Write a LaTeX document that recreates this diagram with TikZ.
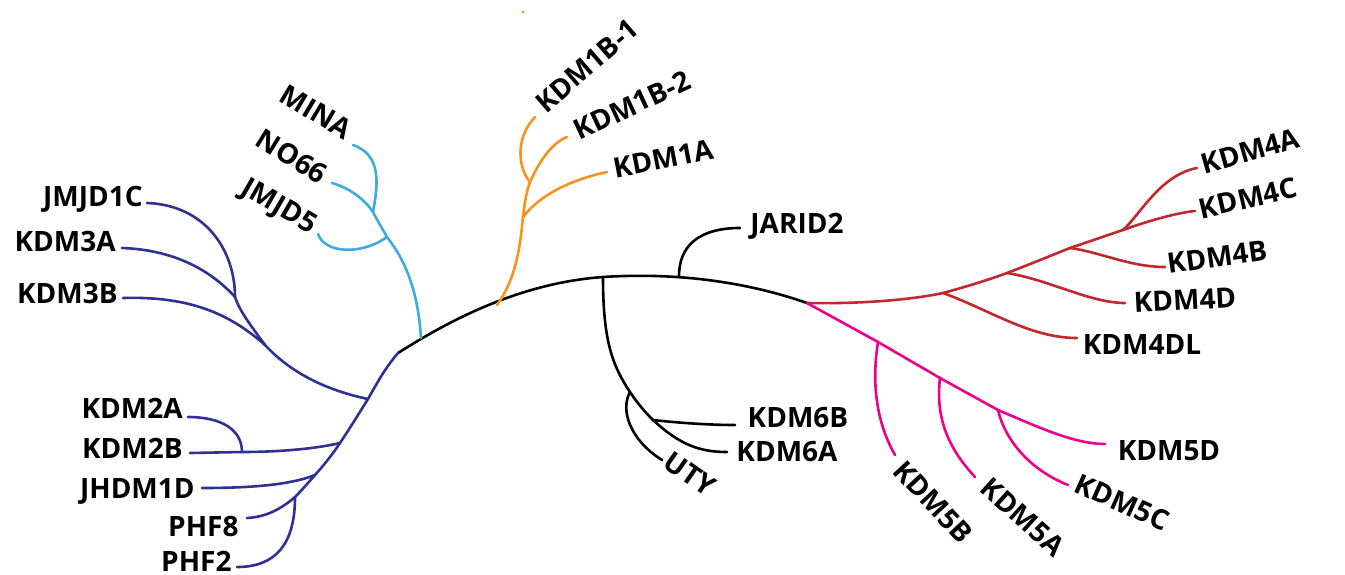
\documentclass[tikz,border=0pt]{standalone}
\usepackage{fontspec}
\setmainfont{Open Sans}
\definecolor{navy}{HTML}{2E3192}
\definecolor{sky}{HTML}{3FA9E0}
\definecolor{amber}{HTML}{F7931E}
\definecolor{crimson}{HTML}{C1272D}
\definecolor{magenta}{HTML}{EC008C}
\begin{document}
\begin{tikzpicture}[x=0.5pt,y=-0.5pt,
  br/.style={line width=1.3pt,line cap=round},
  lbl/.style={inner sep=0pt,font=\fontsize{14pt}{16pt}\selectfont\bfseries,text depth=0pt}]
\fill[white] (0,0) rectangle (1345,574);
\useasboundingbox (0,0) rectangle (1345,574);

% ---- backbone ----
\coordinate (root) at (398,353);
\coordinate (top) at (603,277);
\coordinate (rm) at (807,303);
\coordinate (ob) at (497,305);
\coordinate (sb) at (421,338);
\coordinate (jb) at (679,276);
\draw[br] (root) .. controls (450,320) and (520,283) .. (top)
  .. controls (680,272) and (750,283) .. (rm);

% ---- KDM1 (orange) ----
\coordinate (o1) at (523,217);
\coordinate (o2) at (530,182);
\coordinate (t1a) at (607,172);
\coordinate (t1b2) at (567,137);
\coordinate (t1b1) at (535,117);
\draw[br,amber] (ob) .. controls (515,280) and (520,250) .. (o1)
  .. controls (525,200) and (527,190) .. (o2);
\draw[br,amber] (o1) .. controls (540,195) and (570,180) .. (t1a);
\draw[br,amber] (o2) .. controls (540,160) and (552,143) .. (t1b2);
\draw[br,amber] (o2) .. controls (518,168) and (515,138) .. (t1b1);
\fill[amber] (523,12) circle (1.5);
\node[lbl,rotate=41] (kdm1b1) at (587,66) {KDM1B-1};
\node[lbl,rotate=25] (kdm1b2) at (632,105) {KDM1B-2};
\node[lbl,rotate=11] (kdm1a) at (663,159) {KDM1A};

% ---- MINA / NO66 / JMJD5 (sky) ----
\coordinate (s1) at (387,237);
\coordinate (s2) at (373,212);
\coordinate (tj5) at (318,234);
\coordinate (tmi) at (353,145);
\coordinate (tno) at (332,183);
\draw[br,sky] (sb) .. controls (418,290) and (405,260) .. (s1)
  .. controls (382,228) and (377,220) .. (s2);
\draw[br,sky] (s1) .. controls (362,255) and (325,254) .. (tj5);
\draw[br,sky] (s2) .. controls (378,185) and (382,155) .. (tmi);
\draw[br,sky] (s2) .. controls (365,200) and (350,188) .. (tno);
\node[lbl,rotate=-31] (mina) at (316,112) {MINA};
\node[lbl,rotate=-32] (no66) at (292,156) {NO66};
\node[lbl,rotate=-30] (jmjd5) at (280,205) {JMJD5};

% ---- KDM2/3, JHDM1D, PHF (navy) ----
\coordinate (n1) at (368,399);
\coordinate (n2) at (340,443);
\coordinate (n3) at (315,475);
\coordinate (n4) at (295,497);
\coordinate (n1b) at (265,345);
\coordinate (n1c) at (235,297);
\coordinate (n2a) at (242,452);
\coordinate (t3b) at (123,298);
\coordinate (t3a) at (122,248);
\coordinate (t1c) at (147,203);
\coordinate (t2b) at (190,453);
\coordinate (t2a) at (188,417);
\coordinate (t1d) at (202,488);
\coordinate (tp8) at (247,518);
\coordinate (tp2) at (237,567);
\draw[br,navy] (root) .. controls (385,368) and (376,385) .. (n1)
  .. controls (358,415) and (350,428) .. (n2)
  .. controls (332,455) and (324,465) .. (n3)
  .. controls (308,483) and (302,490) .. (n4);
\draw[br,navy] (n1) .. controls (325,390) and (290,372) .. (n1b)
  .. controls (252,327) and (240,312) .. (n1c);
\draw[br,navy] (n1b) .. controls (230,314) and (190,296) .. (t3b);
\draw[br,navy] (n1c) .. controls (215,275) and (180,250) .. (t3a);
\draw[br,navy] (n1c) .. controls (235,250) and (205,205) .. (t1c);
\draw[br,navy] (n2) .. controls (310,450) and (270,452) .. (n2a) -- (t2b);
\draw[br,navy] (n2a) .. controls (242,430) and (222,417) .. (t2a);
\draw[br,navy] (n3) .. controls (290,485) and (250,488) .. (t1d);
\draw[br,navy] (n4) .. controls (280,510) and (265,517) .. (tp8);
\draw[br,navy] (n4) .. controls (295,545) and (275,567) .. (tp2);
\node[lbl,anchor=east] (jmjd1c) at (143,196) {JMJD1C};
\node[lbl,anchor=east] (kdm3a) at (116,241) {KDM3A};
\node[lbl,anchor=east] (kdm3b) at (118,293) {KDM3B};
\node[lbl,anchor=east] (kdm2a) at (183,408) {KDM2A};
\node[lbl,anchor=east] (kdm2b) at (183,448) {KDM2B};
\node[lbl,anchor=east] (jhdm1d) at (195,488) {JHDM1D};
\node[lbl,anchor=east] (phf8) at (239,526) {PHF8};
\node[lbl,anchor=east] (phf2) at (232,561) {PHF2};

% ---- JARID2, KDM6, UTY (black) ----
\coordinate (tjar) at (740,228);
\coordinate (k1) at (630,392);
\coordinate (k2) at (653,420);
\coordinate (t6b) at (735,425);
\coordinate (t6a) at (727,452);
\coordinate (tuty) at (662,460);
\draw[br] (jb) .. controls (679,245) and (700,228) .. (tjar);
\draw[br] (top) .. controls (603,340) and (612,365) .. (k1)
  .. controls (638,404) and (645,412) .. (k2);
\draw[br] (k2) .. controls (680,423) and (710,425) .. (t6b);
\draw[br] (k2) .. controls (680,445) and (700,452) .. (t6a);
\draw[br] (k1) .. controls (620,410) and (630,440) .. (tuty);
\node[lbl] (jarid2) at (797,223) {JARID2};
\node[lbl] (kdm6b) at (798,417) {KDM6B};
\node[lbl] (kdm6a) at (787,451) {KDM6A};
\node[lbl,rotate=-35] (uty) at (690,474) {UTY};

% ---- KDM4 (crimson) ----
\coordinate (r1) at (943,293);
\coordinate (r2) at (1007,273);
\coordinate (r3) at (1070,248);
\coordinate (r4) at (1123,230);
\coordinate (t4c) at (1195,211);
\coordinate (t4a) at (1197,168);
\coordinate (t4b) at (1165,267);
\coordinate (t4d) at (1125,303);
\coordinate (t4dl) at (1077,338);
\draw[br,crimson] (rm) .. controls (860,304) and (910,300) .. (r1)
  .. controls (965,287) and (985,281) .. (r2)
  .. controls (1028,265) and (1050,256) .. (r3)
  .. controls (1088,242) and (1105,236) .. (r4);
\draw[br,crimson] (r4) .. controls (1145,222) and (1175,213) .. (t4c);
\draw[br,crimson] (r4) .. controls (1140,215) and (1160,175) .. (t4a);
\draw[br,crimson] (r3) .. controls (1100,252) and (1130,267) .. (t4b);
\draw[br,crimson] (r2) .. controls (1050,280) and (1090,303) .. (t4d);
\draw[br,crimson] (r1) .. controls (990,310) and (1030,338) .. (t4dl);
\node[lbl,rotate=16] (kdm4a) at (1250,151) {KDM4A};
\node[lbl,rotate=13] (kdm4c) at (1248,198) {KDM4C};
\node[lbl,rotate=8] (kdm4b) at (1217,257) {KDM4B};
\node[lbl,rotate=3] (kdm4d) at (1185,300) {KDM4D};
\node[lbl] (kdm4dl) at (1142,344) {KDM4DL};

% ---- KDM5 (magenta) ----
\coordinate (m1) at (878,342);
\coordinate (m2) at (940,378);
\coordinate (m3) at (998,410);
\coordinate (t5d) at (1105,444);
\coordinate (t5b) at (895,455);
\coordinate (t5a) at (975,477);
\coordinate (t5c) at (1068,485);
\draw[br,magenta] (rm) -- (m1) -- (m2) -- (m3)
  .. controls (1040,428) and (1075,444) .. (t5d);
\draw[br,magenta] (m1) .. controls (872,380) and (875,420) .. (t5b);
\draw[br,magenta] (m2) .. controls (935,420) and (950,450) .. (t5a);
\draw[br,magenta] (m3) .. controls (1005,440) and (1030,470) .. (t5c);
\node[lbl] (kdm5d) at (1169,450) {KDM5D};
\node[lbl,rotate=-24] (kdm5c) at (1122,502) {KDM5C};
\node[lbl,rotate=-42] (kdm5a) at (1023,517) {KDM5A};
\node[lbl,rotate=-47] (kdm5b) at (933,502) {KDM5B};
\end{tikzpicture}
\end{document}
